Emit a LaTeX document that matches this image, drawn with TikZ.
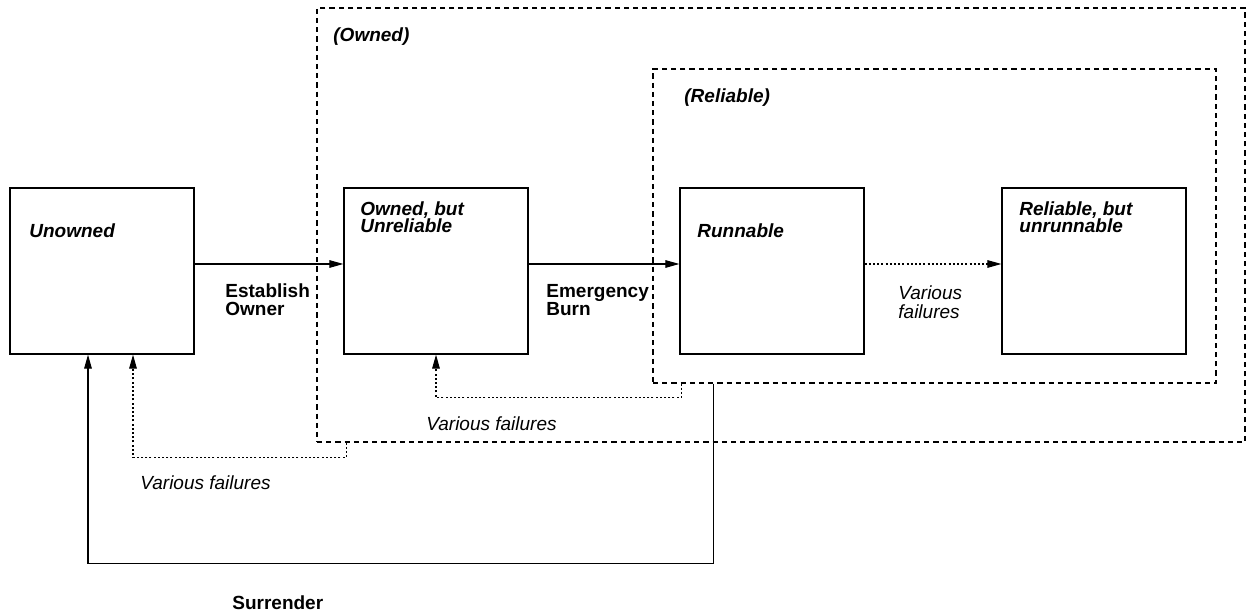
\documentclass[tikz,border=0pt]{standalone}
\usepackage{fontspec}
\setmainfont{Liberation Sans}
\usepackage{tikz}
\usetikzlibrary{positioning,calc,arrows.meta}

\begin{document}
\begin{tikzpicture}[x=0.5pt,y=-0.5pt,
					font=\fontsize{9.5}{9.2}\selectfont
					]
					\tikzset{
						statebox/.style={
							shape=rectangle,
							draw=black,
							line width=0.65pt,
							minimum width=92pt,
							minimum height=83pt,
							inner sep=0pt
						},
						groupframe/.style={
							shape=rectangle,
							draw=black,
							line width=0.55pt,
							dash pattern=on 2.6pt off 2pt,
							inner sep=0pt
						},
						statetxt/.style={anchor=west, align=left, inner sep=0pt, font=\fontsize{9.5}{8.6}\selectfont\bfseries\itshape},
						grouptxt/.style={anchor=west, inner sep=0pt, font=\fontsize{9.5}{9.2}\selectfont\bfseries\itshape},
						movetxt/.style={anchor=west, align=left, inner sep=0pt, font=\fontsize{9.5}{9.2}\selectfont\bfseries},
						failtxt/.style={anchor=west, align=left, inner sep=0pt, font=\fontsize{9.5}{9.4}\selectfont\itshape},
						movearrow/.style={draw=black, line width=0.55pt, -{Triangle[length=7pt,width=3.8pt]}},
						failarrow/.style={movearrow, dash pattern=on 1pt off 1.1pt}
					}
					\useasboundingbox (0,0) rectangle (1247,614);
					
					\node[groupframe, minimum width=464pt, minimum height=217pt] (ownedframe) at (781,225) {};
					\node[groupframe, minimum width=281.5pt, minimum height=157pt] (relframe) at (934.5,226) {};
					\node[grouptxt] (ownedtxt) at (333,37) {(Owned)};
					\node[grouptxt] (reltxt) at (684,98) {(Reliable)};
					
					\node[statebox] (unowned) at (102,271) {};
					\node[statebox] (owned) at (436,271) {};
					\node[statebox] (runnable) at (772,271) {};
					\node[statebox] (relunrun) at (1094,271) {};
					
					\node[statetxt] (unownedtxt) at (29,231) {Unowned};
					\node[statetxt] (ownedtxt2) at (360,217) {Owned, but\\Unreliable};
					\node[statetxt] (runnabletxt) at (697,231) {Runnable};
					\node[statetxt] (relunruntxt) at (1019,217) {Reliable, but\\unrunnable};
					
					\draw[movearrow] ([yshift=3.5pt]unowned.east) -- ([yshift=3.5pt]owned.west);
					\draw[movearrow] ([yshift=3.5pt]owned.east) -- ([yshift=3.5pt]runnable.west);
					\draw[failarrow] ([yshift=3.5pt]runnable.east) -- ([yshift=3.5pt]relunrun.west);
					\node[movetxt] (establish) at (225,300) {Establish\\Owner};
					\node[movetxt] (burn) at (546,300) {Emergency\\Burn};
					\node[failtxt] (failmid) at (898,302) {Various\\failures};
					
					\draw[failarrow] ($(relframe.south west)+(29,0)$) -- ++(0,14) -| (owned.south);
					\node[failtxt] (failrel) at (426,424) {Various failures};
					
					\draw[failarrow] ($(ownedframe.south west)+(30,0)$) -- ++(0,15) -| ($(unowned.south)+(31,0)$);
					\node[failtxt] (failowned) at (140,483) {Various failures};
					
					\draw[movearrow] ($(relframe.south west)+(61,0)$) -- ++(0,180) -| ($(unowned.south)+(-14,0)$);
					\node[movetxt] (surrender) at (232,603) {Surrender};
				\end{tikzpicture}
\end{document}
